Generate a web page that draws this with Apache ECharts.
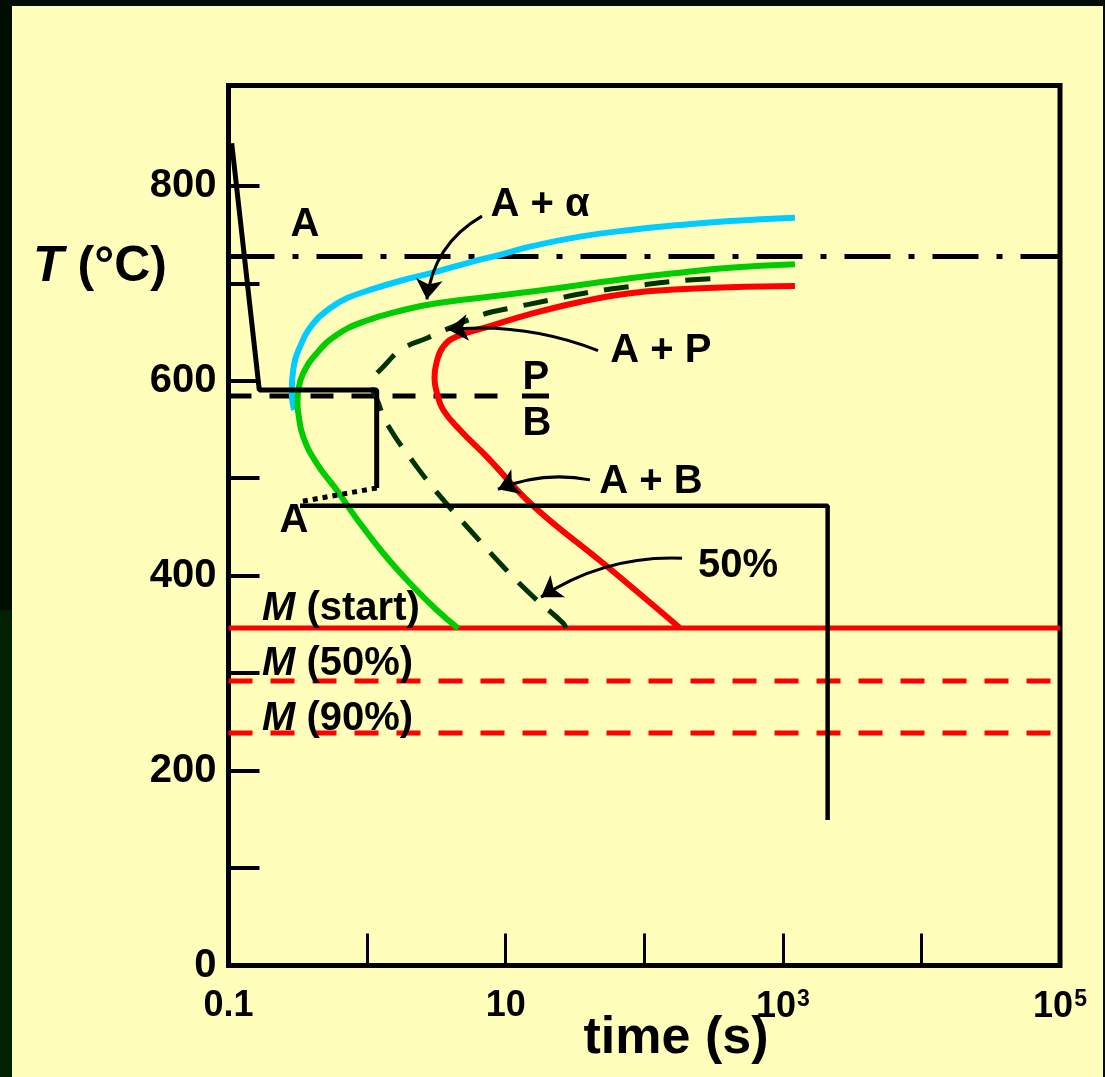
<!DOCTYPE html>
<html><head><meta charset="utf-8">
<script src="https://cdn.jsdelivr.net/npm/echarts@6/dist/echarts.min.js"></script>
<style>html,body{margin:0;padding:0;background:#ffffbb}#c{width:1105px;height:1077px}</style>
</head><body><div id="c"></div>
<script>
// ---- data ----
const xTickValues = [0.1, 1, 10, 100, 1000, 10000, 100000];
const xTickLabelValues = [0.1, 10, 1000, 100000];
const xTickLabelTexts = ['0.1', '10', '10{sup|3}', '10{sup|5}'];
const yTickValues = [0, 100, 200, 300, 400, 500, 600, 700, 800];
const yTickLabelValues = [0, 200, 400, 600, 800];

const eutectoidT = 727.5;
const pbBoundaryT = 584.4;
const msStartT = 346.3;
const ms50T = 291.9;
const ms90T = 238.6;

// ferrite start (A + alpha), cyan
const ferriteStart = [[0.297,570.0],[0.286,588.5],[0.293,611.1],[0.328,635.0],[0.409,659.0],[0.540,674.4],[0.7125,684.6],[1.049,693.2],[1.825,703.4],[3.178,712.0],[5.526,721.6],[9.61,730.1],[14.98,737.6],[34.37,747.9],[78.86,754.8],[180.9,759.9],[415.3,764.0],[1223,767.4]];
// transformation start, green
const transformStart = [[4.55,346.0],[3.178,364.8],[2.039,392.2],[1.309,423.0],[0.841,458.5],[0.6035,487.9],[0.433,515.3],[0.346,542.6],[0.319,566.7],[0.3147,578.3],[0.319,590.6],[0.346,607.7],[0.433,628.2],[0.6035,647.0],[0.939,660.6],[1.825,672.6],[3.178,679.5],[14.98,691.4],[34.37,698.3],[78.86,705.2],[180.9,710.9],[415.3,716.1],[1223,719.6]];
// 50% transformation, dark green dashed
const transform50 = [[27.23,346.3],[26.04,351.2],[15.82,378.4],[9.61,409.2],[5.526,446.9],[3.5465,477.7],[2.28,511.9],[1.385,556.4],[1.1985,578.3],[1.085,595.7],[1.385,618.0],[1.825,633.3],[2.69,643.6],[4.43,657.3],[7.29,669.3],[10.74,674.4],[20.87,682.9],[42.65,691.4],[85.69,697.3],[172.2,702.4],[361.8,705.2]];
// transformation finish, red
const transformFinish = [[180.9,346.3],[50.6,412.7],[15.82,471.5],[7.293,522.1],[4.68,549.5],[3.5465,570.0],[3.178,588.5],[3.064,602.9],[3.178,619.3],[3.5465,635.0],[4.432,645.5],[7.703,656.0],[14.98,668.5],[34.37,680.9],[78.86,689.8],[180.9,693.9],[415.3,696.0],[1223,697.3]];

// cooling path
const coolingPath = [[0.1055,843.7],[0.1668,590.6],[1.1731,590.6],[1.1731,490.0]];
const coolingDotted = [[1.1731,490.0],[0.3281,475.9]];
const isothermHold = [[0.3281,471.8],[2105,471.8],[2105,149.3]];
const pbBar = [[13.11,584.4],[20.53,584.4]];

// annotations
const annotationTexts = ['A', 'A', 'A + α', 'A + P', 'P', 'B', 'A + B', '50%'];
const annotationPos = [[0.3565,760],[0.297,456.2],[17.68,780.5],[131.9,630.7],[16.54,603],[16.82,555.7],[111.8,496.2],[474.2,410]];
const mLabelTexts = ['{i|M} (start)', '{i|M} (50%)', '{i|M} (90%)'];
const mLabelPos = [[0.1745,366],[0.1745,309.5],[0.1745,253]];

// arrows: from label to curve
const arrowFrom = [[6.75,769.0],[46.4,631.0],[40.6,498.3],[187.5,418.0]];
const arrowTo = [[2.70,683.5],[3.83,652.6],[8.80,488.7],[18.0,378.0]];
const arrowCurveness = [-0.25, -0.12, -0.15, -0.16];

// ---- chart ----
const FF = '"Liberation Sans", Arial, sans-serif';
const chart = echarts.init(document.getElementById('c'), null, {renderer: 'canvas'});

function hline(T, xMin, xMax) { return [[xMin, T], [xMax, T]]; }

function lineSeries(data, color, width, type, smooth, z) {
  return {
    type: 'line', data: data, showSymbol: false, symbol: 'none',
    smooth: smooth ? 0.45 : false, z: z || 2, animation: false,
    lineStyle: {color: color, width: width, type: type || 'solid', cap: 'butt', opacity: 1}
  };
}

const labelBase = {show: true, color: '#000', fontFamily: FF, fontWeight: 'bold', fontSize: 40,
  textBorderWidth: 0, textShadowBlur: 0, opacity: 1};

const labelData = annotationTexts.map((t, i) => ({
  value: annotationPos[i],
  label: Object.assign({}, labelBase, {position: 'inside', formatter: t})
})).concat(mLabelTexts.map((t, i) => ({
  value: mLabelPos[i],
  label: Object.assign({}, labelBase, {position: 'right', distance: 0, formatter: t,
    rich: {i: {fontFamily: FF, fontWeight: 'bold', fontStyle: 'italic', fontSize: 40, color: '#000'}}})
})));

const arrowData = arrowFrom.map((f, i) => ({
  coords: [f, arrowTo[i]],
  lineStyle: {curveness: arrowCurveness[i]}
}));

const option = {
  backgroundColor: '#ffffbb',
  animation: false,
  grid: {left: 228.5, right: 45, top: 85.5, bottom: 111.5, show: true,
    borderColor: '#000', borderWidth: 5, backgroundColor: 'transparent'},
  xAxis: {
    type: 'log', logBase: 10, min: 0.1, max: 100000,
    axisLine: {show: false},
    splitLine: {show: false},
    axisTick: {show: true, inside: true, length: 32, customValues: xTickValues,
      lineStyle: {color: '#000', width: 3}},
    axisLabel: {show: true, margin: 23, customValues: xTickLabelValues,
      color: '#000', fontFamily: FF, fontWeight: 'bold', fontSize: 36,
      formatter: function (v) {
        const e = Math.log10(v);
        for (let i = 0; i < xTickLabelValues.length; i++) {
          if (Math.abs(Math.log10(xTickLabelValues[i]) - e) < 1e-6) return xTickLabelTexts[i];
        }
        return '';
      },
      rich: {sup: {fontFamily: FF, fontWeight: 'bold', fontSize: 23, color: '#000', verticalAlign: 'top', padding: [0, 0, 14, 1]}}
    }
  },
  yAxis: {
    type: 'value', min: 0, max: 903,
    axisLine: {show: false},
    splitLine: {show: false},
    axisTick: {show: true, inside: true, length: 31, customValues: yTickValues,
      lineStyle: {color: '#000', width: 4}},
    axisLabel: {show: true, margin: 12, customValues: yTickLabelValues, padding: [6, 0, 0, 0],
      color: '#000', fontFamily: FF, fontWeight: 'bold', fontSize: 40}
  },
  graphic: [
    {type: 'rect', shape: {x: 0, y: 0, width: 12, height: 610}, style: {fill: '#000d00'}, z: 100},
    {type: 'rect', shape: {x: 0, y: 610, width: 12, height: 467}, style: {fill: '#002200'}, z: 100},
    {type: 'rect', shape: {x: 0, y: 0, width: 1105, height: 6}, style: {fill: '#000d00'}, z: 100},
    {type: 'rect', shape: {x: 1103, y: 0, width: 2, height: 1077}, style: {fill: '#000d00'}, z: 100},
    {type: 'text', x: 100, y: 267, z: 100, style: {
      text: '{i|T} (°C)', align: 'center', verticalAlign: 'middle', fill: '#000',
      fontFamily: FF, fontWeight: 'bold', fontSize: 50,
      rich: {i: {fontFamily: FF, fontWeight: 'bold', fontStyle: 'italic', fontSize: 50, fill: '#000'}}}},
    {type: 'text', x: 676, y: 1039, z: 100, style: {
      text: 'time (s)', align: 'center', verticalAlign: 'middle', fill: '#000',
      fontFamily: FF, fontWeight: 'bold', fontSize: 52}}
  ],
  series: [
    lineSeries(hline(eutectoidT, 0.1, 100000), '#000', 5, [46, 18, 6, 18], false, 2),
    lineSeries(hline(pbBoundaryT, 0.1, 10), '#000', 5, [23, 18], false, 2),
    lineSeries(pbBar, '#000', 5, 'solid', false, 2),
    lineSeries(hline(msStartT, 0.1, 100000), '#ff0000', 5, 'solid', false, 2),
    lineSeries(hline(ms50T, 0.1, 100000), '#ff0000', 5, [24, 18], false, 2),
    lineSeries(hline(ms90T, 0.1, 100000), '#ff0000', 5, [24, 18], false, 2),
    lineSeries(ferriteStart, '#00ccff', 6, 'solid', true, 3),
    lineSeries(transformStart, '#00cc00', 6, 'solid', true, 4),
    lineSeries(transform50, '#003300', 5, [25, 16], true, 4),
    lineSeries(transformFinish, '#ff0000', 6, 'solid', true, 4),
    lineSeries(coolingPath, '#000', 5, 'solid', false, 5),
    lineSeries(coolingDotted, '#000', 5, [5, 5], false, 5),
    lineSeries(isothermHold, '#000', 4.5, 'solid', false, 5),
    {
      type: 'lines', coordinateSystem: 'cartesian2d', z: 6, animation: false,
      symbol: ['none', 'arrow'], symbolSize: 20,
      lineStyle: {color: '#000', width: 3, opacity: 1},
      data: arrowData
    },
    {
      type: 'scatter', z: 7, symbolSize: 0, itemStyle: {color: '#000', opacity: 1},
      animation: false, data: labelData
    }
  ]
};
chart.setOption(option);
</script>
</body></html>
